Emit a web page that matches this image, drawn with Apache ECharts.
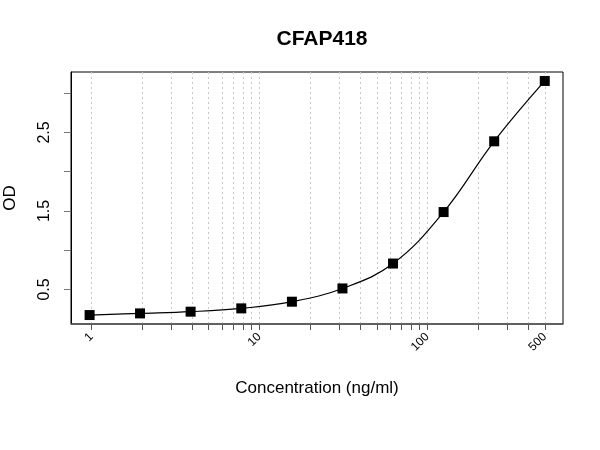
<!DOCTYPE html>
<html>
<head>
<meta charset="utf-8">
<script src="https://cdn.jsdelivr.net/npm/echarts@6/dist/echarts.min.js"></script>
<style>
  html, body { margin: 0; padding: 0; background: #fff; }
  #main { width: 600px; height: 450px; }
</style>
</head>
<body>
<div id="main"></div>
<script>
// standard curve points
var conc = [0.977, 1.95, 3.9, 7.81, 15.63, 31.25, 62.5, 125, 250, 500];
var od = [0.174, 0.195, 0.217, 0.259, 0.344, 0.513, 0.83, 1.486, 2.387, 3.156];

// axis ticks
var xTicks = [1, 2, 3, 4, 5, 6, 7, 8, 9, 10, 20, 30, 40, 50, 60, 70, 80, 90, 100, 200, 300, 400, 500];
var xLabels = [1, 10, 100, 500];
var yTicks = [0.5, 1, 1.5, 2, 2.5, 3];
var yLabels = [0.5, 1.5, 2.5];

var points = conc.map(function (c, i) { return [c, od[i]]; });

var chart = echarts.init(document.getElementById('main'));
chart.setOption({
    animation: false,
    textStyle: { fontFamily: 'Liberation Sans, Arial, sans-serif' },
    title: {
        text: 'CFAP418',
        left: 317,
        top: 24,
        textAlign: 'center',
        textStyle: { fontSize: 21, fontWeight: 'bold', color: '#000' }
    },
    grid: {
        left: 71, right: 37, top: 72, bottom: 126,
        outerBoundsMode: 'none',
        containLabel: false,
        show: true, borderColor: '#000', borderWidth: 1
    },
    xAxis: {
        type: 'log',
        min: 0.757,
        max: 642,
        name: 'Concentration (ng/ml)',
        nameLocation: 'middle',
        nameGap: 56,
        nameTextStyle: { fontSize: 17, color: '#000' },
        axisLine: { show: true, lineStyle: { color: '#555', width: 1.5 } },
        axisTick: { show: true, length: 6, customValues: xTicks, lineStyle: { color: '#555' } },
        axisLabel: { customValues: xLabels, rotate: 45, fontSize: 12, color: '#000', margin: 11 },
        splitLine: { show: true, lineStyle: { color: '#c8c8c8', type: [2, 3] } },
        minorTick: { show: false },
        minorSplitLine: { show: false }
    },
    yAxis: {
        type: 'value',
        min: 0.06,
        max: 3.27,
        name: 'OD',
        nameLocation: 'middle',
        nameGap: 52,
        nameRotate: 90,
        nameTextStyle: { fontSize: 17, color: '#000' },
        axisLine: { show: true, lineStyle: { color: '#000', width: 1 } },
        axisTick: { show: true, length: 7, customValues: yTicks, lineStyle: { color: '#777' } },
        axisLabel: { customValues: yLabels, rotate: 90, fontSize: 16, color: '#000', margin: 18,
            formatter: function (v) { return v.toFixed(1); } },
        splitLine: { show: false }
    },
    series: [{
        type: 'line',
        data: points,
        smooth: 0.4,
        symbol: 'rect',
        symbolSize: 10,
        itemStyle: { color: '#000' },
        lineStyle: { color: '#000', width: 1.2 }
    }]
});
</script>
</body>
</html>
